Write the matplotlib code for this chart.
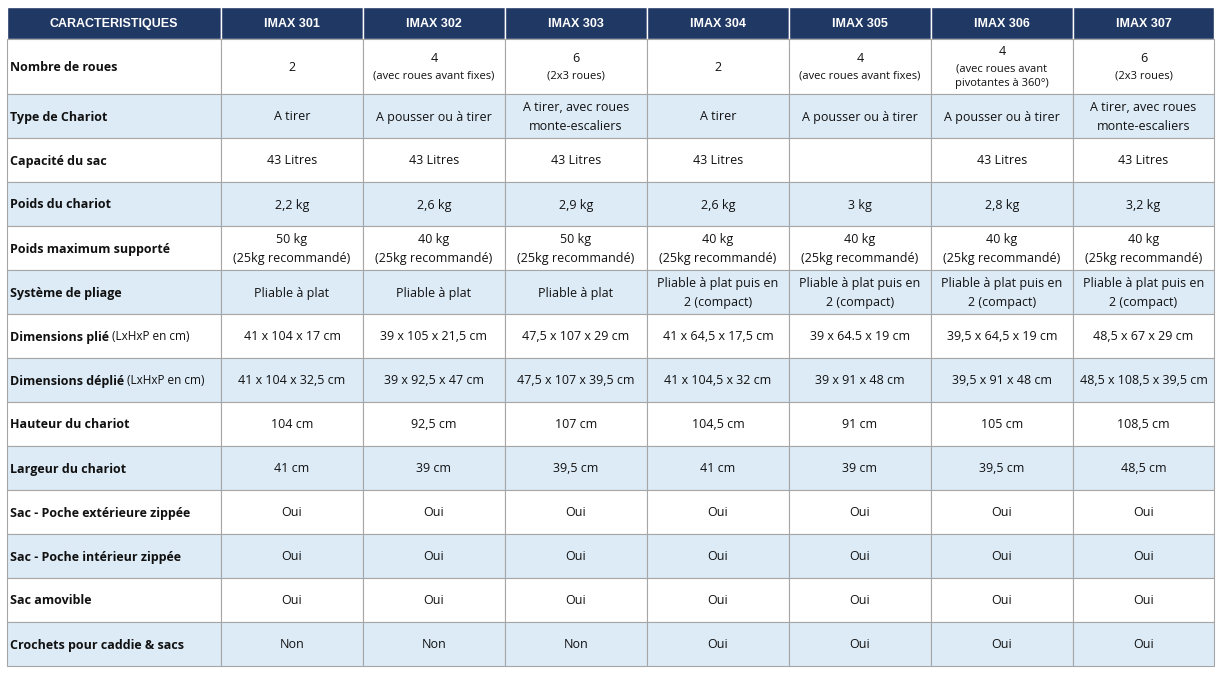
import matplotlib
matplotlib.use('Agg')
import matplotlib.pyplot as plt
from matplotlib.patches import Rectangle

# ── Table content ───────────────────────────────────────────────────────────
header = ["CARACTERISTIQUES", "IMAX 301", "IMAX 302", "IMAX 303", "IMAX 304",
          "IMAX 305", "IMAX 306", "IMAX 307"]

row_labels = [
    ("Nombre de roues", ""),
    ("Type de Chariot", ""),
    ("Capacité du sac", ""),
    ("Poids du chariot", ""),
    ("Poids maximum supporté", ""),
    ("Système de pliage", ""),
    ("Dimensions plié", " (LxHxP en cm)"),
    ("Dimensions déplié", " (LxHxP en cm)"),
    ("Hauteur du chariot", ""),
    ("Largeur du chariot", ""),
    ("Sac - Poche extérieure zippée", ""),
    ("Sac - Poche intérieur zippée", ""),
    ("Sac amovible", ""),
    ("Crochets pour caddie & sacs", ""),
]

nb_roues = ["2", "4\n(avec roues avant fixes)", "6\n(2x3 roues)", "2",
            "4\n(avec roues avant fixes)",
            "4\n(avec roues avant\npivotantes à 360°)", "6\n(2x3 roues)"]
type_chariot = ["A tirer", "A pousser ou à tirer",
                "A tirer, avec roues\nmonte-escaliers", "A tirer",
                "A pousser ou à tirer", "A pousser ou à tirer",
                "A tirer, avec roues\nmonte-escaliers"]
capacite = ["43 Litres", "43 Litres", "43 Litres", "43 Litres", "",
            "43 Litres", "43 Litres"]
poids = ["2,2 kg", "2,6 kg", "2,9 kg", "2,6 kg", "3 kg", "2,8 kg", "3,2 kg"]
poids_max = ["50 kg\n(25kg recommandé)", "40 kg\n(25kg recommandé)",
             "50 kg\n(25kg recommandé)", "40 kg\n(25kg recommandé)",
             "40 kg\n(25kg recommandé)", "40 kg\n(25kg recommandé)",
             "40 kg\n(25kg recommandé)"]
pliage = ["Pliable à plat", "Pliable à plat", "Pliable à plat"] + \
         ["Pliable à plat puis en\n2 (compact)"] * 4
dim_plie = ["41 x 104 x 17 cm", "39 x 105 x 21,5 cm", "47,5 x 107 x 29 cm",
            "41 x 64,5 x 17,5 cm", "39 x 64.5 x 19 cm", "39,5 x 64,5 x 19 cm",
            "48,5 x 67 x 29 cm"]
dim_deplie = ["41 x 104 x 32,5 cm", "39 x 92,5 x 47 cm", "47,5 x 107 x 39,5 cm",
              "41 x 104,5 x 32 cm", "39 x 91 x 48 cm", "39,5 x 91 x 48 cm",
              "48,5 x 108,5 x 39,5 cm"]
hauteur = ["104 cm", "92,5 cm", "107 cm", "104,5 cm", "91 cm", "105 cm", "108,5 cm"]
largeur = ["41 cm", "39 cm", "39,5 cm", "41 cm", "39 cm", "39,5 cm", "48,5 cm"]
poche_ext = ["Oui"] * 7
poche_int = ["Oui"] * 7
amovible = ["Oui"] * 7
crochets = ["Non", "Non", "Non", "Oui", "Oui", "Oui", "Oui"]

cells = [nb_roues, type_chariot, capacite, poids, poids_max, pliage, dim_plie,
         dim_deplie, hauteur, largeur, poche_ext, poche_int, amovible, crochets]

# ── Geometry (pixels) ───────────────────────────────────────────────────────
W, H = 1221, 674
col_x = [7, 221, 363, 505, 647, 789, 931, 1073, 1214]
row_y = [7, 39, 94] + [94 + 44 * i for i in range(1, 14)]

NAVY = '#203864'
BLUE = '#ddebf7'
GRID = '#a6a6a6'
FONT = 'Open Sans'

fig = plt.figure(figsize=(W / 100, H / 100), dpi=100)
ax = fig.add_axes([0, 0, 1, 1])
ax.set_xlim(0, W)
ax.set_ylim(H, 0)
ax.axis('off')

# header
for c in range(8):
    x0, x1 = col_x[c], col_x[c + 1]
    ax.add_patch(Rectangle((x0, row_y[0]), x1 - x0, row_y[1] - row_y[0],
                           facecolor=NAVY, edgecolor='white', lw=1))
    ax.text((x0 + x1) / 2, (row_y[0] + row_y[1]) / 2 + 1, header[c], color='white',
            fontsize=9, fontweight='bold', ha='center', va='center',
            family='Liberation Sans')

fig.canvas.draw()
renderer = fig.canvas.get_renderer()

for r in range(14):
    y0, y1 = row_y[r + 1], row_y[r + 2]
    yc = (y0 + y1) / 2 + 1
    face = BLUE if r % 2 == 1 else 'white'
    for c in range(8):
        x0, x1 = col_x[c], col_x[c + 1]
        ax.add_patch(Rectangle((x0, y0), x1 - x0, y1 - y0,
                               facecolor=face, edgecolor=GRID, lw=0.8))
    bold, extra = row_labels[r]
    t = ax.text(col_x[0] + 3, yc, bold, fontsize=9, fontweight='bold',
                ha='left', va='center', family=FONT, color='#111111')
    if extra:
        bb = t.get_window_extent(renderer)
        ax.text(bb.x1, H - yc, extra, fontsize=8.5, ha='left', va='center',
                family=FONT, color='#111111', transform=None)
    for c, val in enumerate(cells[r]):
        xc = (col_x[c + 1] + col_x[c + 2]) / 2
        if r == 0 and '\n' in val:
            first, rest = val.split('\n', 1)
            nsub = rest.count('\n') + 1
            top = yc - 9 - (nsub - 1) * 7
            ax.text(xc, top, first, fontsize=9, ha='center', va='center',
                    family=FONT, color='#111111')
            ax.text(xc, top + 9 + nsub * 8, rest,
                    fontsize=8, ha='center', va='center', family=FONT,
                    color='#111111', linespacing=1.45)
        else:
            ax.text(xc, yc, val, fontsize=9, ha='center', va='center',
                    family=FONT, color='#111111', linespacing=1.6)

fig.savefig('out.png', dpi=100)
